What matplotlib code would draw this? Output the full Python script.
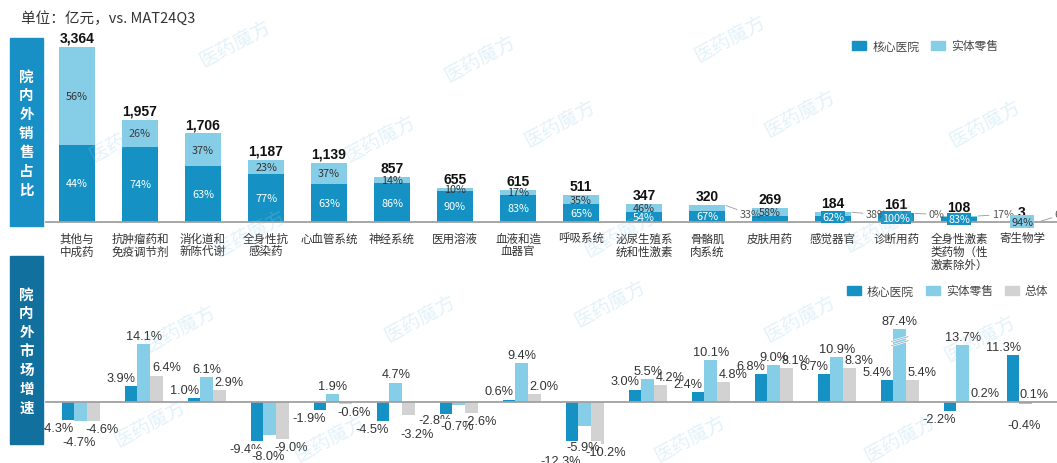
import numpy as np
import matplotlib.pyplot as plt
from matplotlib.patches import Rectangle, Patch

plt.rcParams['font.family'] = ['Noto Sans CJK SC', 'DejaVu Sans']

W, H = 1057, 464

# ---- data ----
categories = ['其他与\n中成药', '抗肿瘤药和\n免疫调节剂', '消化道和\n新陈代谢', '全身性抗\n感染药',
              '心血管系统', '神经系统', '医用溶液', '血液和造\n血器官', '呼吸系统',
              '泌尿生殖系\n统和性激素', '骨骼肌\n肉系统', '皮肤用药', '感觉器官', '诊断用药',
              '全身性激素\n类药物（性\n激素除外）', '寄生物学']
totals = [3364, 1957, 1706, 1187, 1139, 857, 655, 615, 511, 347, 320, 269, 184, 161, 108, 3]
hosp_share = [44, 74, 63, 77, 63, 86, 90, 83, 65, 54, 67, 42, 62, 100, 83, 94]
retail_share = [56, 26, 37, 23, 37, 14, 10, 17, 35, 46, 33, 58, 38, 0, 17, 6]

growth_hosp = [-4.3, 3.9, 1.0, -9.4, -1.9, -4.5, -2.8, 0.6, -12.3, 3.0, 2.4, 6.8, 6.7, 5.4, -2.2, 11.3]
growth_retail = [-4.7, 14.1, 6.1, -8.0, 1.9, 4.7, -0.7, 9.4, -5.9, 5.5, 10.1, 9.0, 10.9, 87.4, 13.7, -0.4]
growth_total = [-4.6, 6.4, 2.9, -9.0, -0.6, -3.2, -2.6, 2.0, -10.2, 4.2, 4.8, 8.1, 8.3, 5.4, 0.2, 0.1]

retail_outside = [10, 12, 13, 14, 15]   # share label drawn beside the bar
hosp_hidden = [11]
# extra vertical nudges (px) for crowded growth labels: (series, index) -> dy
nudge = {(2, 5): -11, (0, 6): 2}

C_HOSP = '#1592c3'
C_RET = '#86cde8'
C_TOT = '#d2d2d2'
C_SIDE1 = '#1890c6'
C_SIDE2 = '#12709f'
C_TXT = '#333333'
NUMFONT = ['Liberation Sans', 'DejaVu Sans']
PX = 0.72  # points per pixel


def rect(x0, y0, x1, y1):
    return [x0 / W, 1 - y1 / H, (x1 - x0) / W, (y1 - y0) / H]


fig = plt.figure(figsize=(W / 100, H / 100), dpi=100)

# watermark
for wx, wy in [(235, 45), (480, 60), (730, 40), (125, 140), (380, 140), (560, 125),
               (800, 115), (985, 125), (250, 235), (620, 235), (880, 230), (180, 330), (420, 320),
               (610, 305), (800, 320), (980, 340), (150, 425), (330, 440), (690, 440), (900, 440)]:
    fig.text(wx / W, 1 - wy / H, '医药魔方', fontsize=14, color='#8fcbe8', alpha=0.25,
             rotation=28, ha='center', va='center', zorder=10)

fig.text(21 / W, 1 - 18 / H, '单位：亿元，vs. MAT24Q3', fontsize=10.5, color=C_TXT, va='center')

# side boxes
for (y0, y1, col, txt) in [(39, 227, C_SIDE1, '院内外销售占比'), (257, 445, C_SIDE2, '院内外市场增速')]:
    fig.patches.append(Rectangle((10 / W, 1 - y1 / H), 33 / W, (y1 - y0) / H,
                                 transform=fig.transFigure, color=col, zorder=1))
    fig.text(26.5 / W, 1 - (y0 + y1) / 2 / H, '\n'.join(txt), color='white', fontsize=10.5,
             fontweight='bold', ha='center', va='center', linespacing=1.22)

x = np.arange(len(categories))
tot = np.array(totals, float)
hv = tot * np.array(hosp_share) / 100
rv = tot * np.array(retail_share) / 100

# ---- top chart ----
ax1 = fig.add_axes(rect(45.5, 30, 1053.5, 222.7))
ax1.set_xlim(-0.5, 15.5)
ax1.set_ylim(0, 3711)
ax1.bar(x, hv, 0.56, color=C_HOSP, zorder=2)
ax1.bar(x, rv, 0.56, bottom=hv, color=C_RET, zorder=2)
ax1.axhline(0, color='#a0a0a0', lw=1.3, zorder=3, clip_on=False, xmax=1.01)
for s in ax1.spines.values():
    s.set_visible(False)
ax1.set_yticks([])
ax1.set_xticks(x)
ax1.set_xticklabels(categories, fontsize=8.3, color=C_TXT, linespacing=1.0, va='top')
ax1.tick_params(axis='x', length=0, pad=7)
ax1.patch.set_alpha(0)

for i in x:
    ax1.annotate(f'{totals[i]:,}', (i, tot[i]), xytext=(0, 1.5), textcoords='offset points',
                 ha='center', va='bottom', fontsize=10, fontweight='bold', color='#111111',
                 family=NUMFONT)
    if i in retail_outside:
        ax1.annotate(f'{retail_share[i]}%', (i + 0.28, tot[i]), xytext=(i + 0.52, 140),
                     ha='left', va='center', fontsize=7.8, color='#555555',
                     arrowprops=dict(arrowstyle='-', color='#999999', lw=0.6, shrinkA=0, shrinkB=1))
    else:
        ax1.text(i, hv[i] + rv[i] / 2, f'{retail_share[i]}%', ha='center', va='center',
                 fontsize=7.8, color=C_TXT, zorder=4)
    if i in hosp_hidden:
        continue
    if tot[i] >= 250:
        ax1.text(i, hv[i] / 2, f'{hosp_share[i]}%', ha='center', va='center', fontsize=7.8,
                 color='white', zorder=4)
    else:
        light = tot[i] < 50
        ax1.text(i, tot[i] / 2, f'{hosp_share[i]}%', ha='center', va='center', fontsize=7.8,
                 color=C_TXT if light else 'white', zorder=4,
                 bbox=dict(boxstyle='square,pad=0.12', fc=C_RET if light else C_HOSP, ec='none'))

ax1.legend(handles=[Patch(color=C_HOSP), Patch(color=C_RET)], labels=['核心医院', '实体零售'],
           ncol=2, frameon=False, fontsize=8.5, handlelength=1.2, handleheight=0.8,
           columnspacing=1.0, handletextpad=0.5, labelcolor='#444444',
           bbox_to_anchor=(1004 / W, 1 - 47 / H), bbox_transform=fig.transFigure,
           loc='center right', borderpad=0)

# ---- bottom chart ----
CAP = 17.6
px_per = 4.14
ax2 = fig.add_axes(rect(45.5, 280, 1053.5, 464))
ax2.set_xlim(-0.5, 15.5)
ax2.set_ylim(-(464 - 403) / px_per, (403 - 280) / px_per)
series = [(growth_hosp, C_HOSP, -0.14, -10), (growth_retail, C_RET, 0.06, 0),
          (growth_total, C_TOT, 0.26, 10)]
last = len(categories) - 1
for k, (vals, col, off, dx) in enumerate(series):
    v = np.array(vals)
    drawn = np.minimum(v, CAP)
    ax2.bar(x + off, drawn, 0.2, color=col, zorder=2)
    for i in x:
        extra = nudge.get((k, i), 0)
        if v[i] >= 0:
            ddx = -4 if (i == last and dx > 0) else dx
            ax2.annotate(f'{v[i]:.1f}%', (i + off, drawn[i]), xytext=(ddx * PX, 1.5 + extra * PX),
                         textcoords='offset points', ha='center', va='bottom', fontsize=9.2,
                         color=C_TXT, family=NUMFONT, zorder=5)
        else:
            dy = (-15 if col == C_RET else -2) + extra
            ax2.annotate(f'{v[i]:.1f}%', (i + off, drawn[i]), xytext=(dx * PX - 1, dy * PX),
                         textcoords='offset points', ha='center', va='top', fontsize=9.2,
                         color=C_TXT, family=NUMFONT, zorder=5,
                         bbox=dict(boxstyle='square,pad=0.05', fc='white', ec='none')
                         if col == C_RET else None)
    if col == C_RET:
        for i in x:
            if v[i] > CAP:
                for yb in (14.2, 15.2):
                    ax2.plot([i + off - 0.13, i + off + 0.13], [yb - 0.6, yb + 0.6],
                             color='white', lw=1.6, zorder=3)
                    ax2.plot([i + off - 0.13, i + off + 0.13], [yb - 0.6, yb + 0.6],
                             color='#8a9aa4', lw=0.5, zorder=3)

ax2.axhline(0, color='#a0a0a0', lw=1.3, zorder=3, clip_on=False, xmax=1.01)
for s in ax2.spines.values():
    s.set_visible(False)
ax2.set_xticks([])
ax2.set_yticks([])
ax2.patch.set_alpha(0)

ax2.legend(handles=[Patch(color=C_HOSP), Patch(color=C_RET), Patch(color=C_TOT)],
           labels=['核心医院', '实体零售', '总体'], ncol=3, frameon=False, fontsize=8.5,
           handlelength=1.2, handleheight=0.8, columnspacing=1.0, handletextpad=0.5,
           labelcolor='#444444', bbox_to_anchor=(1054 / W, 1 - 292 / H),
           bbox_transform=fig.transFigure, loc='center right', borderpad=0)

fig.savefig('out.png', dpi=100)
